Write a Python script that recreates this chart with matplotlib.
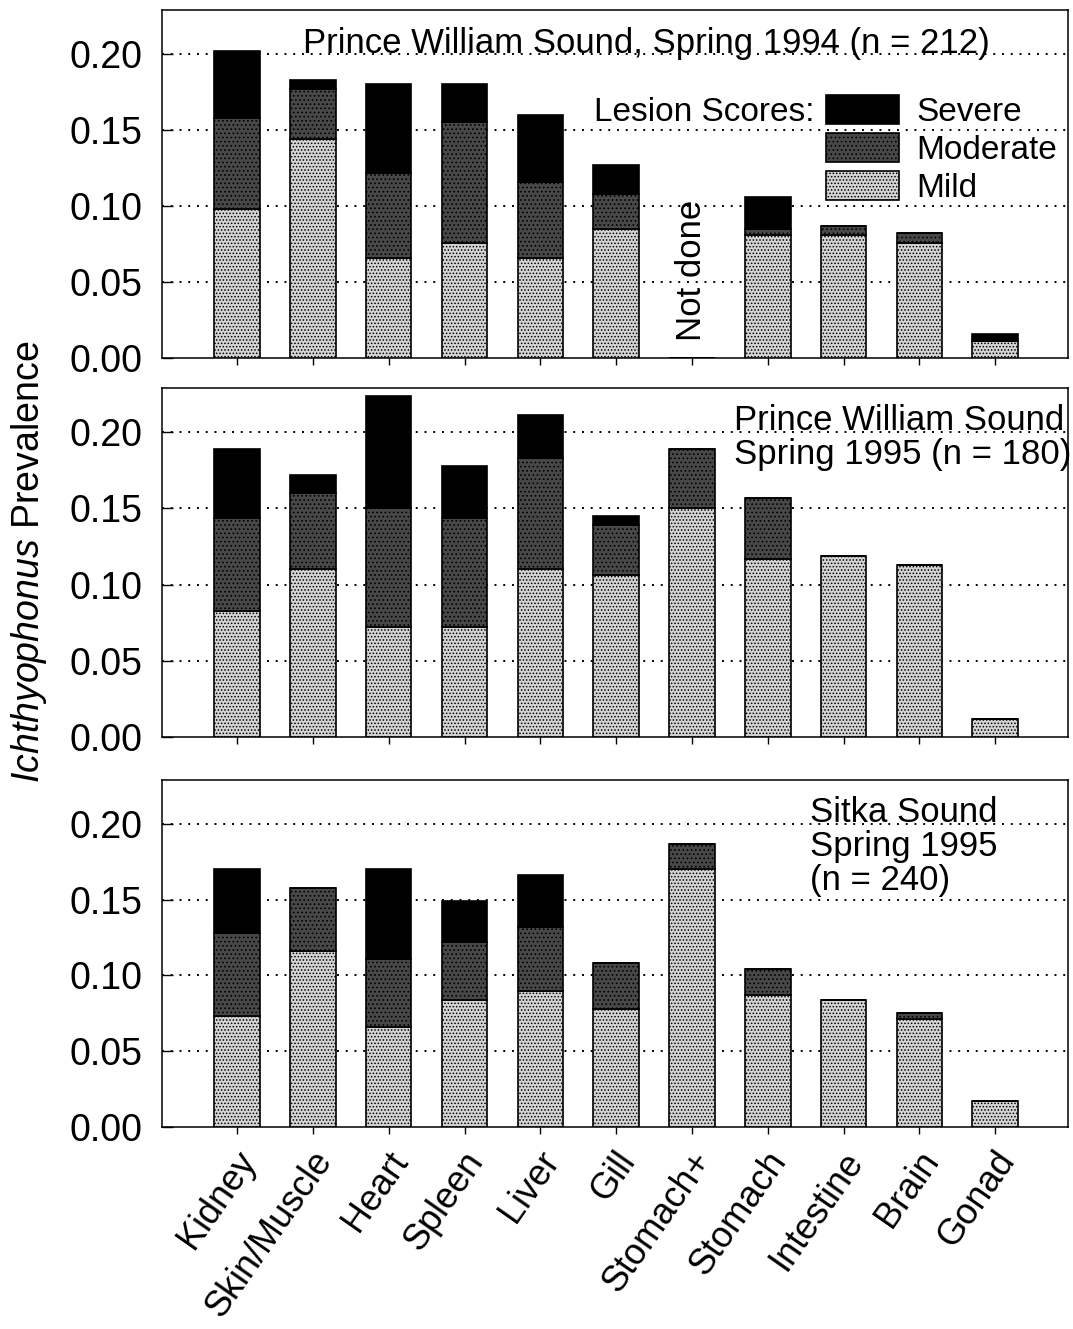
import matplotlib
matplotlib.use("Agg")
import matplotlib.pyplot as plt
import matplotlib.patches as mpatches
import matplotlib.transforms as mtrans
import numpy as np

plt.rcParams['font.family'] = ['Liberation Sans', 'DejaVu Sans']
plt.rcParams['mathtext.fontset'] = 'custom'
plt.rcParams['mathtext.rm'] = 'Liberation Sans'
plt.rcParams['mathtext.it'] = 'Liberation Sans:italic'
plt.rcParams['hatch.linewidth'] = 0.7

organs = ["Kidney", "Skin/Muscle", "Heart", "Spleen", "Liver", "Gill",
          "Stomach+", "Stomach", "Intestine", "Brain", "Gonad"]

# Prince William Sound, Spring 1994
pws94_mild     = [0.098, 0.144, 0.066, 0.076, 0.066, 0.085, 0.0, 0.081, 0.081, 0.076, 0.011]
pws94_moderate = [0.060, 0.033, 0.056, 0.079, 0.050, 0.023, 0.0, 0.004, 0.006, 0.006, 0.000]
pws94_severe   = [0.044, 0.006, 0.058, 0.025, 0.044, 0.019, 0.0, 0.021, 0.000, 0.000, 0.005]

# Prince William Sound, Spring 1995
pws95_mild     = [0.083, 0.110, 0.072, 0.072, 0.110, 0.106, 0.150, 0.117, 0.119, 0.113, 0.012]
pws95_moderate = [0.061, 0.050, 0.078, 0.072, 0.073, 0.033, 0.039, 0.040, 0.000, 0.000, 0.000]
pws95_severe   = [0.045, 0.012, 0.074, 0.034, 0.028, 0.006, 0.000, 0.000, 0.000, 0.000, 0.000]

# Sitka Sound, Spring 1995
sitka_mild     = [0.073, 0.116, 0.066, 0.084, 0.090, 0.078, 0.170, 0.087, 0.084, 0.071, 0.017]
sitka_moderate = [0.055, 0.042, 0.045, 0.038, 0.042, 0.030, 0.017, 0.017, 0.000, 0.004, 0.000]
sitka_severe   = [0.042, 0.000, 0.059, 0.027, 0.034, 0.000, 0.000, 0.000, 0.000, 0.000, 0.000]

yticks = [0.00, 0.05, 0.10, 0.15, 0.20]
ytick_labels = ["0.00", "0.05", "0.10", "0.15", "0.20"]

panels = [
    (pws94_mild, pws94_moderate, pws94_severe),
    (pws95_mild, pws95_moderate, pws95_severe),
    (sitka_mild, sitka_moderate, sitka_severe),
]

fig = plt.figure(figsize=(10.73, 13.29), dpi=100)
W, H = 1073, 1329
left, right = 162, 1068
tops = [10, 388, 780]
bottoms = [358, 737, 1127]

mild_style = dict(facecolor="#d4d4d4", hatch=".....", edgecolor="black")
mod_style = dict(facecolor="#484848", hatch="....", edgecolor="black")
sev_style = dict(facecolor="black", edgecolor="black")

x = np.arange(len(organs))
axes = []
for i, (mild, mod, sev) in enumerate(panels):
    ax = fig.add_axes([left / W, 1 - bottoms[i] / H, (right - left) / W,
                       (bottoms[i] - tops[i]) / H])
    axes.append(ax)
    mild = np.array(mild); mod = np.array(mod); sev = np.array(sev)
    ax.bar(x, mild, width=0.6, linewidth=1.2, zorder=3, **mild_style)
    ax.bar(x, mod, width=0.6, bottom=mild, linewidth=1.2, zorder=3, **mod_style)
    ax.bar(x, sev, width=0.6, bottom=mild + mod, linewidth=1.2, zorder=3, **sev_style)
    ax.set_xlim(-0.99, 10.96)
    ax.set_ylim(0, 0.229)
    ax.set_yticks(yticks)
    ax.set_yticklabels(ytick_labels, fontsize=27)
    for yv in yticks[1:]:
        ax.axhline(yv, color="black", lw=1.4, dashes=(1, 3.5), zorder=1)
    ax.tick_params(axis="y", direction="in", length=8, width=1.0, pad=14)
    ax.tick_params(axis="x", direction="out", length=5, width=1.0)
    ax.set_xticks(x)
    for sp in ax.spines.values():
        sp.set_linewidth(1.1)
    if i < 2:
        ax.set_xticklabels([])
    else:
        ax.set_xticklabels(organs, fontsize=26, rotation=55, ha="right",
                           va="center", rotation_mode="anchor")
        offset = mtrans.ScaledTranslation(12 / 100, -16 / 100, fig.dpi_scale_trans)
        for lab in ax.get_xticklabels():
            lab.set_transform(lab.get_transform() + offset)

# Panel titles
axes[0].text(0.535, 0.905, "Prince William Sound, Spring 1994 (n = 212)",
             transform=axes[0].transAxes, ha="center", va="center", fontsize=25)
axes[0].text(6, 0.011, "Not done", rotation=90, ha="center", va="bottom",
             fontsize=25)
axes[1].text(0.631, 0.955, "Prince William Sound\nSpring 1995 (n = 180)",
             transform=axes[1].transAxes, ha="left", va="top", fontsize=25,
             linespacing=1.05)
axes[2].text(0.715, 0.955, "Sitka Sound\nSpring 1995\n(n = 240)",
             transform=axes[2].transAxes, ha="left", va="top", fontsize=25,
             linespacing=1.05)

# Legend
handles = [mpatches.Patch(linewidth=1.2, **sev_style),
           mpatches.Patch(linewidth=1.2, **mod_style),
           mpatches.Patch(linewidth=1.2, **mild_style)]
leg = axes[0].legend(handles, ["Severe", "Moderate", "Mild"], loc="upper left",
                     bbox_to_anchor=(0.733, 0.755), frameon=False, fontsize=24,
                     handlelength=2.2, handleheight=0.95, labelspacing=0.15,
                     handletextpad=0.5, borderpad=0, borderaxespad=0)
axes[0].text(0.72, 0.705, "Lesion Scores:", transform=axes[0].transAxes,
             ha="right", va="center", fontsize=24)

fig.text(0.027, 0.577, r"$\mathit{Ichthyophonus}$ Prevalence", rotation=90,
         ha="center", va="center", fontsize=27)

fig.savefig("out.png", dpi=100)
